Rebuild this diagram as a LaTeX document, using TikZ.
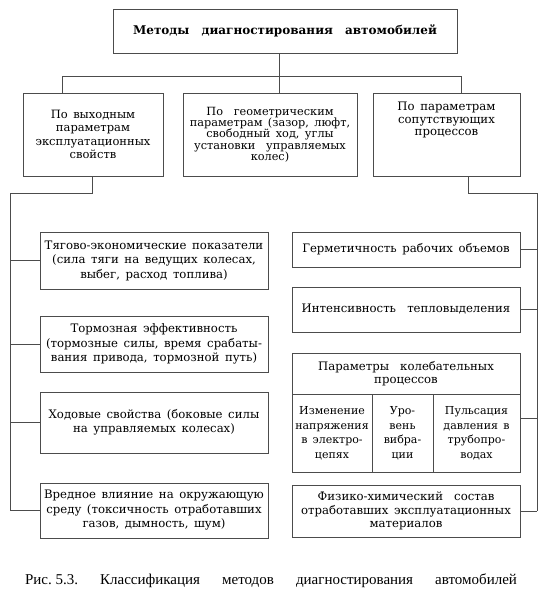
\documentclass[tikz,border=0pt]{standalone}
\usepackage{fontspec}
\setmainfont{DejaVu Serif}[WordSpace=1.5]
\newfontfamily\capfont{Liberation Serif}
\usetikzlibrary{positioning, calc}
\tikzset{
	box/.style={draw=black!70, line width=.7pt, align=center, inner sep=.5pt,
		font=\fontsize{11.7}{14.5}\selectfont},
	cell/.style={box, font=\fontsize{11}{14.5}\selectfont},
	boxtext/.style={align=center, inner sep=0pt, font=\fontsize{11.7}{12.5}\selectfont},
	link/.style={draw=black!70, line width=.6pt},
}

\begin{document}
\begin{tikzpicture}[x=1pt, y=-1pt]
		\useasboundingbox (0,0) rectangle (550,597);
		% top level
		\node[box, minimum width=344, minimum height=44, font=\bfseries\fontsize{12}{13}\selectfont] (methods) at (285,31) {Методы\quad диагностирования\quad автомобилей};
		% three groups
		\node[box, minimum width=140, minimum height=83, font=\fontsize{11.5}{13.3}\selectfont] (output) at (93,134.5) {По выходным\\параметрам\\эксплуатационных\\свойств};
		\node[box, minimum width=174, minimum height=83, font=\fontsize{11.3}{11.3}\selectfont] (geometry) at (270,134.5) {По\ \ геометрическим\\параметрам (зазор, люфт,\\свободный ход, углы\\установки\ \ управляемых\\колес)};
		\node[box, minimum width=147, minimum height=83] (process) at (446.5,134.5) {};
		\node[boxtext] (processtext) at (446.5,120) {По параметрам\\сопутствующих\\процессов};
		\coordinate (trunk) at (279,76);
		\coordinate (barL) at (62,76);
		\coordinate (barR) at (461,76);
		\draw[link] (methods.south -| trunk) -- (geometry.north -| trunk);
		\draw[link] (output.north -| barL) -- (barL) -- (barR) -- (process.north -| barR);
		% output parameters
		\node[box, minimum width=228, minimum height=57] (traction) at (154,260.5) {Тягово-экономические показатели\\(сила тяги на ведущих колесах,\\выбег, расход топлива)};
		\node[box, minimum width=228, minimum height=56] (braking) at (154,344) {Тормозная эффективность\\(тормозные силы, время срабаты-\\вания привода, тормозной путь)};
		\node[box, minimum width=228, minimum height=61] (running) at (154,422.5) {Ходовые свойства (боковые силы\\на управляемых колесах)};
		\node[box, minimum width=228, minimum height=55] (harm) at (154,510.5) {Вредное влияние на окружающую\\среду (токсичность отработавших\\газов, дымность, шум)};
		\coordinate (lturn) at (92,193);
		\coordinate (lbus) at (10.5,193);
		\draw[link] (output.south -| lturn) -- (lturn) -- (lbus) -- (lbus |- harm.west);
		\foreach \n in {traction, braking, running, harm}
			\draw[link] (lbus |- \n.west) -- (\n.west);
		% accompanying processes
		\node[box, minimum width=228, minimum height=35] (seal) at (406,249.5) {Герметичность\ рабочих\ объемов};
		\node[box, minimum width=228, minimum height=45] (heat) at (406,309.5) {Интенсивность\ \ тепловыделения};
		\node[box, minimum width=228, minimum height=41, font=\fontsize{11.7}{13.5}\selectfont] (vibration) at (406,373.5) {Параметры\ \ колебательных\\процессов};
		\node[cell, minimum width=80, minimum height=78] (voltage) at (332,433) {Изменение\\напряжения\\в электро-\\цепях};
		\node[cell, minimum width=61, minimum height=78] (level) at (402.5,433) {Уро-\\вень\\вибра-\\ции};
		\node[cell, minimum width=87, minimum height=78] (pulse) at (476.5,433) {Пульсация\\давления в\\трубопро-\\водах};
		\node[box, minimum width=228, minimum height=52, font=\fontsize{11.7}{13.5}\selectfont] (chem) at (406,511) {Физико-химический\ \ состав\\отработавших эксплуатационных\\материалов};
		\coordinate (rturn) at (468,193);
		\coordinate (rbus) at (537,193);
		\coordinate (pulsetap) at ($(pulse.north east)+(0,25)$);
		\draw[link] (process.south -| rturn) -- (rturn) -- (rbus) -- (rbus |- chem.east);
		\foreach \n in {seal, heat, chem}
			\draw[link] (\n.east) -- (rbus |- \n.east);
		\draw[link] (pulsetap) -- (rbus |- pulsetap);
		% caption
		\node[font=\capfont\fontsize{15}{17}\selectfont, inner sep=0pt] (caption) at (271,581) {\makebox[492pt]{Рис.~5.3.\hfill Классификация\hfill методов\hfill диагностирования\hfill автомобилей}};
	\end{tikzpicture}
\end{document}
